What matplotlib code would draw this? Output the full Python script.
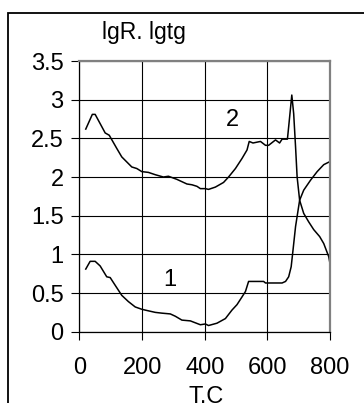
import matplotlib
matplotlib.use('Agg')
import matplotlib.pyplot as plt
from matplotlib.patches import Rectangle

plt.rcParams['font.family'] = ['Liberation Sans', 'DejaVu Sans']

# curve 1 (lower)
t1 = [20, 34, 50, 66, 87, 98, 114, 135, 156, 178, 199, 220, 242, 263, 290, 306,
      327, 354, 386, 402, 412, 439, 466, 487, 503, 519, 530, 540, 588, 594, 647,
      658, 668, 676, 682, 690, 703, 716, 738, 759, 780, 800]
v1 = [0.81, 0.91, 0.91, 0.85, 0.71, 0.70, 0.60, 0.47, 0.39, 0.32, 0.29, 0.27,
      0.25, 0.24, 0.23, 0.20, 0.15, 0.14, 0.09, 0.10, 0.08, 0.11, 0.17, 0.28,
      0.35, 0.45, 0.52, 0.65, 0.65, 0.63, 0.63, 0.65, 0.71, 0.84, 1.06, 1.36,
      1.70, 1.83, 1.96, 2.07, 2.16, 2.20]

# curve 2 (upper)
t2 = [20, 41, 50, 82, 95, 119, 135, 167, 183, 199, 220, 242, 268, 284, 311, 343,
      359, 375, 386, 402, 412, 434, 460, 476, 498, 519, 535, 542, 554, 578, 594,
      604, 626, 639, 647, 664, 668, 678, 684, 690, 695, 703, 716, 732, 748, 767,
      780, 796, 800]
v2 = [2.62, 2.81, 2.81, 2.57, 2.54, 2.37, 2.26, 2.13, 2.11, 2.07, 2.06, 2.03,
      2.00, 2.01, 1.97, 1.91, 1.90, 1.88, 1.85, 1.85, 1.84, 1.87, 1.93, 2.00,
      2.11, 2.24, 2.35, 2.46, 2.44, 2.46, 2.41, 2.41, 2.48, 2.44, 2.49, 2.49,
      2.65, 3.06, 2.82, 2.39, 2.00, 1.70, 1.53, 1.42, 1.32, 1.23, 1.14, 0.97, 0.88]

xticks = [0, 200, 400, 600, 800]
yticks = [0, 0.5, 1, 1.5, 2, 2.5, 3, 3.5]
ytick_labels = ['0', '0.5', '1', '1.5', '2', '2.5', '3', '3.5']

fig = plt.figure(figsize=(3.64, 4.03), dpi=100)
ax = fig.add_axes([0.2184, 0.1769, 0.6882, 0.6717])

ax.plot(t1, v1, color='black', lw=1.1)
ax.plot(t2, v2, color='black', lw=1.1)

ax.set_xlim(0, 800)
ax.set_ylim(0, 3.5)
ax.set_xticks(xticks)
ax.set_yticks(yticks)
ax.set_yticklabels(ytick_labels)
ax.grid(True, color='black', lw=0.8)
ax.set_axisbelow(True)
ax.tick_params(direction='out', length=5.5, width=0.8, labelsize=17, color='black')
ax.tick_params(axis='x', pad=13)
ax.tick_params(axis='y', pad=6)

for s in ['left', 'bottom']:
    ax.spines[s].set_color('black')
    ax.spines[s].set_linewidth(0.9)
for s in ['top', 'right']:
    ax.spines[s].set_color('#808080')
    ax.spines[s].set_linewidth(1.6)

fig.text(206 / 364, 1 - 386 / 403, 'T,C', fontsize=17, ha='center', va='top')
ax.text(290, 0.67, '1', fontsize=17, ha='center', va='center')
ax.text(490, 2.74, '2', fontsize=17, ha='center', va='center')
fig.text(144 / 364, 1 - 33 / 403, 'lgR. lgtg', fontsize=16.5, ha='center', va='center')

# outer frame, cut off by the image at right and bottom
fig.patches.append(Rectangle((8 / 364, -0.2), 1.5, 1.2 - 12.7 / 403,
                             transform=fig.transFigure, fill=False,
                             edgecolor='black', lw=1.3, clip_on=False))

fig.savefig('out.png', dpi=100)
